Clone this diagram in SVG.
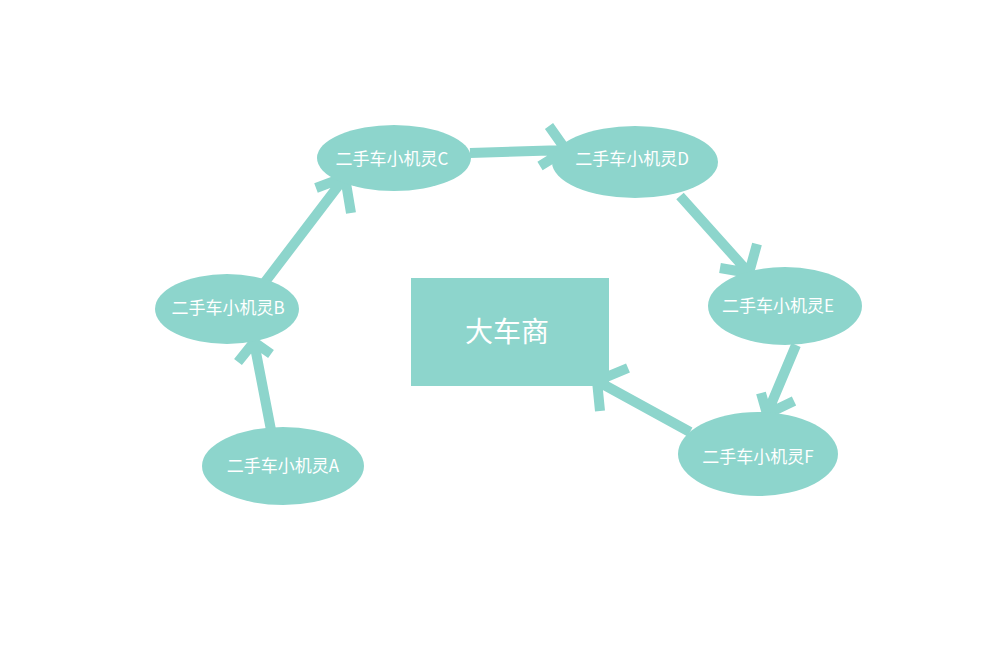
<svg xmlns="http://www.w3.org/2000/svg" width="1000" height="666" viewBox="0 0 1000 666">
<style>
.n{fill:#8dd5cc}
.t{fill:#fff;font-family:"Noto Sans CJK SC","Liberation Sans",sans-serif;font-size:17px;text-anchor:middle;dominant-baseline:central}
.c{stroke:#8dd5cc;stroke-width:10;fill:none;stroke-linejoin:miter}
</style>
<rect width="1000" height="666" fill="#fff"/>
<g id="connectors">
<path class="c" d="M271,430 L254,342 M238,362 L254,342 L271,354"/>
<path class="c" d="M265,282 L345,177 M316,188 L345,177 L351,213"/>
<path class="c" d="M470,153 L566,150 M549,126 L566,150 L540,166"/>
<path class="c" d="M680,196 L749,273 M757,244 L749,273 L720,268"/>
<path class="c" d="M796,345 L767,414 M761,393 L767,414 L794,401"/>
<path class="c" d="M690,432 L597,381 M628,368 L597,381 L600,411"/>
</g>
<g id="center"><rect class="n" x="411" y="278" width="198" height="108"/><text class="t" x="507" y="330" style="font-size:28px">大车商</text></g>
<g id="A"><ellipse class="n" cx="283" cy="466" rx="81" ry="39"/><text class="t" x="283" y="464">二手车小机灵A</text></g>
<g id="B"><ellipse class="n" cx="227" cy="309" rx="72" ry="35"/><text class="t" x="228" y="306">二手车小机灵B</text></g>
<g id="C"><ellipse class="n" cx="394" cy="158" rx="77" ry="33"/><text class="t" x="392" y="157">二手车小机灵C</text></g>
<g id="D"><ellipse class="n" cx="635" cy="162" rx="83" ry="36"/><text class="t" x="632" y="157">二手车小机灵D</text></g>
<g id="E"><ellipse class="n" cx="785" cy="306" rx="77" ry="39"/><text class="t" x="778" y="304">二手车小机灵E</text></g>
<g id="F"><ellipse class="n" cx="758" cy="454" rx="80" ry="42"/><text class="t" x="758" y="455">二手车小机灵F</text></g>
</svg>
